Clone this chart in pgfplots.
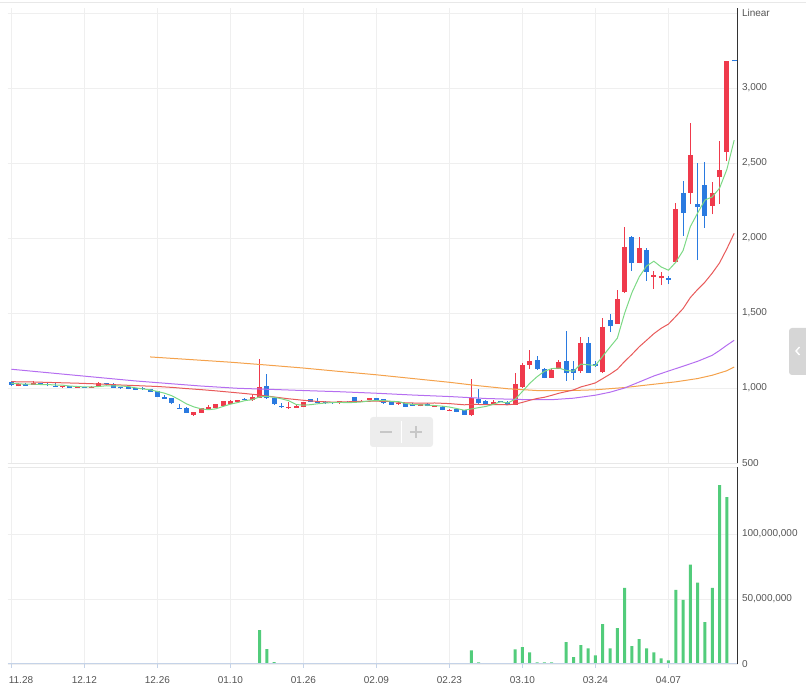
\documentclass[border=0pt]{standalone}
\usepackage{fontspec}
\setmainfont{Liberation Sans}
\usepackage{pgfplots}
\usepackage{pgfplotstable}
\pgfplotsset{compat=1.18}
\definecolor{upred}{HTML}{EF3A4C}
\definecolor{dnblue}{HTML}{2A7AE0}
\definecolor{volgreen}{HTML}{52CC7B}
\definecolor{maA}{HTML}{7CD985}
\definecolor{maB}{HTML}{E85A5A}
\definecolor{maC}{HTML}{B56EF0}
\definecolor{maD}{HTML}{F4A24C}
\definecolor{gridc}{HTML}{EFEFEF}
\definecolor{axisdark}{HTML}{333333}
\definecolor{labelc}{HTML}{555555}
\definecolor{xaxisc}{HTML}{C5D3E8}
\definecolor{sepc}{HTML}{E8E8E8}

\pgfplotstableread{
i o h l c
1 1013 1030 1010 1027
3 1022 1047 1020 1031
7 1005 1015 1003 1013
9 1002 1008 1000 1007
11 1002 1010 1000 1009
12 1013 1040 1011 1031
25 822 842 815 840
26 835 867 833 865
27 862 887 860 873
28 869 895 866 893
29 880 915 878 913
30 895 917 893 915
31 909 922 907 920
33 918 953 916 942
34 935 1193 933 1007
38 865 907 863 875
39 869 884 867 882
40 875 909 873 907
45 898 913 896 911
48 909 917 907 915
49 920 935 918 933
53 891 911 889 902
56 880 893 878 891
58 875 889 873 887
60 851 860 849 856
63 818 1062 813 931
66 895 920 893 909
69 887 1098 885 1027
70 1005 1165 1000 1153
71 1155 1253 1127 1180
74 1069 1133 1065 1120
75 1127 1187 1125 1173
78 1110 1343 1100 1300
81 1104 1468 1100 1405
83 1429 1653 1427 1595
84 1640 2073 1633 1937
86 1836 2004 1830 1930
88 1741 1782 1663 1755
89 1730 1771 1685 1748
91 1840 2231 1833 2193
93 2302 2769 2225 2553
96 2216 2371 2158 2298
97 2405 2647 2225 2453
98 2575 3180 2513 3180
}\upc

\pgfplotstableread{
i o h l c
0 1038 1049 1015 1020
2 1027 1030 1014 1016
4 1033 1035 1020 1022
5 1027 1033 1011 1020
6 1016 1031 1007 1009
8 1013 1015 1000 1002
10 1007 1008 1000 1002
13 1031 1033 1022 1025
14 1020 1031 1000 1002
15 1005 1007 993 998
16 1007 1009 991 993
17 1000 1002 985 987
18 998 1007 987 991
19 993 995 973 975
20 978 980 938 940
21 942 953 927 929
22 933 935 891 902
23 869 893 860 862
24 869 871 833 835
32 929 935 918 920
35 1013 1093 929 931
36 935 937 889 891
37 882 902 869 871
41 927 929 907 909
42 915 933 900 902
43 907 915 896 898
44 907 909 896 898
46 909 911 900 902
47 940 942 909 911
50 933 935 916 918
51 925 927 896 902
52 909 911 887 889
54 900 902 873 875
55 896 898 880 882
57 896 898 878 880
59 875 877 851 853
61 858 860 838 840
62 851 853 820 822
64 925 993 896 898
65 915 917 893 895
67 913 915 905 907
68 907 915 887 889
72 1187 1213 1120 1125
73 1125 1133 1065 1069
76 1180 1380 1047 1097
77 1127 1180 1053 1103
79 1300 1340 1100 1103
80 1160 1180 1143 1147
82 1452 1490 1373 1411
85 2004 2010 1782 1831
87 1923 1930 1715 1773
90 1730 1748 1692 1720
92 2298 2380 2015 2165
94 2227 2498 1853 2205
95 2353 2505 2069 2149
99 3186 3186 3178 3178
}\dnc

\pgfplotstableread{
i v
34 26
35 11.5
36 1.5
63 10.5
64 1.3
69 11.3
70 12.9
71 9.0
72 1.3
73 1.3
74 1.3
75 0.3
76 16.8
77 5.2
78 14.5
79 12.1
80 6.7
81 30.7
82 12.1
83 27.6
84 58.5
85 13.7
86 19.1
87 12.1
88 9.0
89 4.4
90 2.8
91 57.0
92 49.3
93 76.4
94 62.5
95 32.2
96 58.5
97 137.5
98 128.3
}\vol

\pgfplotsset{
  base/.style={
    scale only axis, width=730.1pt, anchor=south west,
    xmin=-0.5, xmax=99.5, xtick={0,10,...,90},
    grid=major, major grid style={draw=gridc, line width=0.8pt},
    axis line style={draw=none},
    ytick pos=right, xtick pos=bottom,
    ticklabel style={font=\fontsize{10}{12}\selectfont, text=labelc},
    clip=false,
  },
}

\begin{document}
\begin{tikzpicture}
\path[use as bounding box] (0,0) rectangle (806pt,700pt);
\draw[sepc] (0,698pt) -- (806pt,698pt);

% ---------- price panel ----------
\begin{axis}[base, at={(7.7pt,237pt)}, height=455pt,
  ymin=500, ymax=3533.3,
  ytick={500,1000,1500,2000,2500,3000,3500},
  yticklabels={500,{1,000},{1,500},{2,000},{2,500},{3,000},Linear},
  xticklabels={},
  major tick length=0pt,
  yticklabel style={anchor=west, inner sep=0pt, xshift=4pt},
]
% wicks
\addplot[draw=none, mark=none, forget plot, error bars/.cd, y dir=plus, y explicit, error mark=none,
  error bar style={draw=upred, line width=1pt}]
  table[x=i, y=l, y error expr=\thisrow{h}-\thisrow{l}] {\upc};
\addplot[draw=none, mark=none, forget plot, error bars/.cd, y dir=plus, y explicit, error mark=none,
  error bar style={draw=dnblue, line width=1pt}]
  table[x=i, y=l, y error expr=\thisrow{h}-\thisrow{l}] {\dnc};
% bodies
\addplot[draw=none, mark=none, forget plot, error bars/.cd, y dir=plus, y explicit, error mark=none,
  error bar style={draw=upred, line width=5pt}]
  table[x=i, y=o, y error expr=\thisrow{c}-\thisrow{o}] {\upc};
\addplot[draw=none, mark=none, forget plot, error bars/.cd, y dir=plus, y explicit, error mark=none,
  error bar style={draw=dnblue, line width=5pt}]
  table[x=i, y=c, y error expr=\thisrow{o}-\thisrow{c}] {\dnc};

% moving averages
\addplot[maD, line width=1pt, mark=none] coordinates {
(19,1207)(25,1188)(30,1172)(35,1153)(40,1133)(45,1110)(50,1088)(55,1063)(60,1038)(64,1015)(68,995)(72,983)(76,982)(80,988)(84,1003)(88,1025)(91,1041)(94,1063)(96,1085)(98,1115)(99,1140)};
\addplot[maC, line width=1pt, mark=none] coordinates {
(0,1125)(5,1102)(10,1079)(17,1047)(22,1028)(26,1013)(31,998)(36,990)(40,983)(45,975)(50,965)(55,953)(60,943)(65,930)(70,923)(74,922)(77,932)(80,952)(82,972)(84,1000)(86,1040)(88,1080)(90,1113)(92,1145)(94,1178)(96,1218)(97,1250)(98,1285)(99,1318)};
\addplot[maB, line width=1pt, mark=none] coordinates {
(0,1042)(3,1040)(6,1036)(9,1032)(12,1027)(15,1020)(18,1014)(20,1010)(22,1004)(24,996)(26,989)(28,981)(30,972)(32,963)(34,953)(36,940)(38,928)(40,918)(42,910)(44,906)(46,908)(48,911)(50,912)(52,910)(54,901)(56,899)(58,900)(59,898)(60,896)(61,892)(62,888)(63,890)(64,890)(65,889)(66,889)(67,889)(68,888)(69,893)(70,904)(71,918)(72,930)(73,938)(74,951)(75,965)(76,976)(77,987)(78,1007)(79,1020)(80,1034)(81,1063)(82,1092)(83,1125)(84,1177)(85,1224)(86,1275)(87,1318)(88,1362)(89,1398)(90,1426)(91,1477)(92,1529)(93,1603)(94,1657)(95,1706)(96,1766)(97,1834)(98,1928)(99,2031)};
\addplot[maA, line width=1pt, mark=none] coordinates {
(0,1031)(1,1028)(2,1025)(3,1026)(4,1023)(5,1023)(6,1020)(7,1019)(8,1013)(9,1010)(10,1007)(11,1007)(12,1010)(13,1015)(14,1014)(15,1013)(16,1010)(17,1001)(18,994)(19,988)(20,977)(21,965)(22,948)(23,922)(24,894)(25,874)(26,861)(27,855)(28,861)(29,877)(30,892)(31,903)(32,916)(33,922)(34,941)(35,944)(36,938)(37,928)(38,915)(39,890)(40,885)(41,889)(42,895)(43,900)(44,903)(45,904)(46,902)(47,904)(48,907)(49,914)(50,916)(51,916)(52,911)(53,909)(54,897)(55,890)(56,888)(57,886)(58,883)(59,879)(60,873)(61,863)(62,852)(63,860)(64,869)(65,877)(66,891)(67,908)(68,900)(69,925)(70,977)(71,1031)(72,1075)(73,1111)(74,1129)(75,1133)(76,1117)(77,1112)(78,1159)(79,1155)(80,1150)(81,1212)(82,1273)(83,1332)(84,1499)(85,1636)(86,1741)(87,1813)(88,1845)(89,1807)(90,1785)(91,1838)(92,1916)(93,2076)(94,2167)(95,2253)(96,2274)(97,2332)(98,2457)(99,2652)};

\draw[sepc] (rel axis cs:0,0) -- (rel axis cs:1,0);
\draw[axisdark, line width=1pt] (rel axis cs:1,0) -- (rel axis cs:1,1);
\end{axis}

% ---------- volume panel ----------
\begin{axis}[base, at={(7.7pt,36pt)}, height=197pt,
  ymin=0, ymax=151.54,
  ytick={0,50,100},
  yticklabels={0,{50,000,000},{100,000,000}},
  xticklabels={\makebox[0pt][l]{\hspace{-2.5pt}11.28},12.12,12.26,01.10,01.26,02.09,02.23,03.10,03.24,04.07},
  tick align=outside, major tick length=4pt,
  xtick style={draw=xaxisc, line width=1pt},
  ytick style={draw=none},
  yticklabel style={anchor=west, inner sep=0pt, xshift=0pt},
  xticklabel style={anchor=north, inner sep=0pt, yshift=-8pt},
]
\addplot[ybar, bar width=3pt, fill=volgreen, draw=none] table[x=i, y=v] {\vol};
\draw[sepc] (rel axis cs:0,1) -- (rel axis cs:1,1);
\draw[xaxisc, line width=1pt] (rel axis cs:0,0) -- (rel axis cs:1,0);
\draw[axisdark, line width=1pt] (rel axis cs:1,0) -- (rel axis cs:1,1);
\end{axis}

% ---------- overlay controls ----------
\fill[rounded corners=3pt, fill=black!7] (370pt,253pt) rectangle (433pt,283pt);
\draw[white, line width=1pt] (401.5pt,257pt) -- (401.5pt,279pt);
\draw[black!22, line width=2.2pt] (380pt,268pt) -- (392pt,268pt);
\draw[black!22, line width=2.2pt] (410pt,268pt) -- (422pt,268pt) (416pt,262pt) -- (416pt,274pt);
\fill[rounded corners=3pt, fill=black!16] (789pt,325pt) rectangle (810pt,372pt);
\draw[white, line width=1.4pt] (799.5pt,353pt) -- (796pt,349pt) -- (799.5pt,345pt);
\end{tikzpicture}
\end{document}
